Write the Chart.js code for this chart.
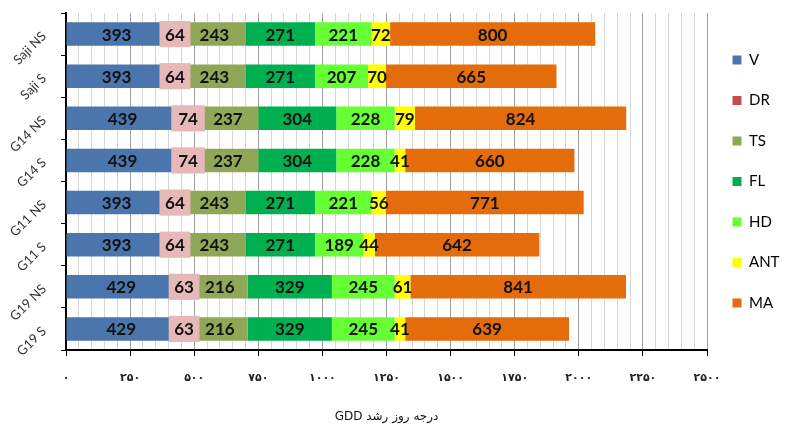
<!DOCTYPE html>
<html>
<head>
<meta charset="utf-8">
<script src="https://cdn.jsdelivr.net/npm/chart.js@4.4.1/dist/chart.umd.min.js"></script>
<style>
  body { margin: 0; background: #fff; }
  #wrap { width: 785px; height: 425px; }
</style>
</head>
<body>
<div id="wrap"><canvas id="gdd"></canvas></div>
<script>
// growth stages per variety / sowing, in GDD
const categories = ['Saji NS', 'Saji S', 'G14 NS', 'G14 S', 'G11 NS', 'G11 S', 'G19 NS', 'G19 S'];
const stageNames = ['V', 'DR', 'TS', 'FL', 'HD', 'ANT', 'MA'];
const vValues   = [393, 393, 439, 439, 393, 393, 429, 429];
const drValues  = [64, 64, 74, 74, 64, 64, 63, 63];
const tsValues  = [243, 243, 237, 237, 243, 243, 216, 216];
const flValues  = [271, 271, 304, 304, 271, 271, 329, 329];
const hdValues  = [221, 207, 228, 228, 221, 189, 245, 245];
const antValues = [72, 70, 79, 41, 56, 44, 61, 41];
const maValues  = [800, 665, 824, 660, 771, 642, 841, 639];
const xTickLabels = ['۰', '۲۵۰', '۵۰۰', '۷۵۰', '۱۰۰۰', '۱۲۵۰', '۱۵۰۰', '۱۷۵۰', '۲۰۰۰', '۲۲۵۰', '۲۵۰۰'];

const stageValues = [vValues, drValues, tsValues, flValues, hdValues, antValues, maValues];
const barColors = ['#4a76ad', '#e6b9b8', '#8fa858', '#00b050', '#66ff33', '#ffff00', '#e46c0a'];
const legendColors = ['#4a76ad', '#c0504d', '#8fa858', '#00b050', '#66ff33', '#ffff00', '#e46c0a'];

// DR box is drawn wider than its value, and all values are written in the middle
const segmentLabels = {
    id: 'segmentLabels',
    afterDatasetsDraw(chart) {
        const ctx = chart.ctx;
        ctx.save();
        const drMeta = chart.getDatasetMeta(1);
        ctx.fillStyle = '#e6b9b8';
        drMeta.data.forEach(bar => {
            const p = bar.getProps(['x', 'y', 'base', 'height'], true);
            const left = Math.min(p.x, p.base) - 7.3;
            const right = Math.max(p.x, p.base) + 7.3;
            ctx.fillRect(left, p.y - p.height / 2 - 1.3, right - left, p.height + 2.6);
        });
        ctx.fillStyle = '#111';
        ctx.font = 'bold 17px Lato';
        ctx.textAlign = 'center';
        ctx.textBaseline = 'middle';
        chart.data.datasets.forEach((ds, i) => {
            chart.getDatasetMeta(i).data.forEach((bar, j) => {
                const c = bar.getCenterPoint();
                ctx.fillText(String(ds.data[j]), c.x, c.y + 1);
            });
        });
        ctx.restore();
    }
};

new Chart(document.getElementById('gdd'), {
    type: 'bar',
    data: {
        labels: categories,
        datasets: stageNames.map((name, i) => ({
            label: name,
            data: stageValues[i],
            backgroundColor: barColors[i],
            borderWidth: 0,
            categoryPercentage: 1,
            barPercentage: 0.56,
        })),
    },
    options: {
        indexAxis: 'y',
        responsive: true,
        maintainAspectRatio: false,
        animation: false,
        layout: { padding: { top: 13, left: 0, right: 0, bottom: 0 } },
        scales: {
            x: {
                stacked: true,
                min: 0,
                max: 2500,
                afterFit: scale => { scale.height = 75; },
                ticks: {
                    stepSize: 50,
                    autoSkip: false,
                    maxRotation: 0,
                    padding: 16,
                    color: '#222',
                    font: { family: 'DejaVu Sans', size: 11, weight: 'bold', lineHeight: 1.2 },
                    callback: value => value % 250 === 0 ? xTickLabels[value / 250] : '',
                },
                grid: {
                    color: c => c.tick && c.tick.value % 250 === 0 ? '#a0a0a0' : '#d6d6d6',
                    tickColor: c => c.tick && c.tick.value % 250 === 0 ? '#000' : 'rgba(0,0,0,0)',
                    tickLength: 6,
                },
                border: { color: '#000', width: 2 },
                title: {
                    display: true,
                    text: 'GDD درجه روز رشد',
                    color: '#111',
                    font: { family: 'DejaVu Sans', size: 12, lineHeight: 1.2 },
                    padding: { top: 7, bottom: 1 },
                },
            },
            y: {
                stacked: true,
                afterFit: scale => {
                    scale.width = 66;
                    scale.paddingTop = 0;
                    scale.paddingBottom = 0;
                },
                ticks: {
                    minRotation: 45,
                    maxRotation: 45,
                    padding: 17,
                    color: '#333',
                    font: { family: 'Lato', size: 13 },
                },
                grid: {
                    drawOnChartArea: false,
                    color: '#000',
                    tickLength: 5,
                },
                border: { color: '#000', width: 2 },
            },
        },
        plugins: {
            legend: {
                position: 'right',
                fullSize: false,
                maxWidth: 78,
                labels: {
                    boxWidth: 9,
                    boxHeight: 9,
                    padding: 25.5,
                    color: '#222',
                    font: { family: 'Lato', size: 15 },
                    generateLabels: chart => stageNames.map((name, i) => ({
                        text: name,
                        fillStyle: legendColors[i],
                        strokeStyle: legendColors[i],
                        lineWidth: 0,
                        datasetIndex: i,
                        hidden: false,
                    })),
                },
            },
            tooltip: { enabled: false },
        },
    },
    plugins: [segmentLabels],
});
</script>
</body>
</html>
